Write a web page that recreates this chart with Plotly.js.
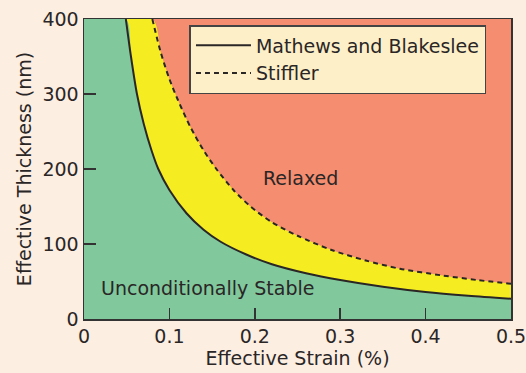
<!DOCTYPE html>
<html>
<head>
<meta charset="utf-8">
<script src="https://cdn.plot.ly/plotly-3.0.1.min.js"></script>
<style>html,body{margin:0;padding:0;background:#FDEEE2;}#chart{width:526px;height:373px;}</style>
</head>
<body>
<div id="chart"></div>
<script>
// Mathews and Blakeslee critical thickness (solid)
const mbStrain = [0.049, 0.055, 0.062, 0.070, 0.079, 0.087, 0.100, 0.120, 0.140, 0.160, 0.190, 0.220, 0.260, 0.300, 0.350, 0.400, 0.450, 0.500];
const mbThick  = [400, 350, 300, 260, 225, 200, 172, 141, 119, 103, 86, 73, 61, 52, 43, 36, 31, 27];
// Stiffler (dashed)
const stStrain = [0.080, 0.090, 0.100, 0.110, 0.125, 0.140, 0.155, 0.175, 0.195, 0.220, 0.250, 0.290, 0.330, 0.370, 0.420, 0.460, 0.500];
const stThick  = [400, 355, 320, 292, 255, 225, 200, 172, 150, 129, 111, 92, 78, 67, 58, 52, 47];
const xRange = [0, 0.5];
const yRange = [0, 400];
const xTicks = [0, 0.1, 0.2, 0.3, 0.4, 0.5];
const yTicks = [0, 100, 200, 300, 400];
const legendNames = ["Mathews and Blakeslee", "Stiffler"];
const regionLabels = [{text: "Relaxed", x: 0.253, y: 188}, {text: "Unconditionally Stable", x: 0.145, y: 42}];

const ink = '#2a2626';
const FONT = 'DejaVu Sans, Liberation Sans, Arial, sans-serif';
const traces = [
  { // yellow: below Stiffler
    x: [xRange[0]].concat(stStrain), y: [yRange[1]].concat(stThick),
    mode: 'lines', fill: 'tozeroy', fillcolor: '#F6EC22', line: {width: 0, color: '#F6EC22', shape: 'spline', smoothing: 0.8},
    showlegend: false, hoverinfo: 'skip'
  },
  { // green: below Mathews-Blakeslee
    x: [xRange[0]].concat(mbStrain), y: [yRange[1]].concat(mbThick),
    mode: 'lines', fill: 'tozeroy', fillcolor: '#81C99D', line: {width: 0, color: '#81C99D', shape: 'spline', smoothing: 0.8},
    showlegend: false, hoverinfo: 'skip'
  },
  {
    x: mbStrain, y: mbThick, name: legendNames[0], mode: 'lines',
    line: {color: ink, width: 2, shape: 'spline', smoothing: 0.8}
  },
  {
    x: stStrain, y: stThick, name: legendNames[1], mode: 'lines',
    line: {color: ink, width: 2, dash: '5px,4px', shape: 'spline', smoothing: 0.8}
  }
];

const layout = {
  width: 526, height: 373,
  paper_bgcolor: '#FDEEE2', plot_bgcolor: '#F58E70',
  margin: {l: 84, r: 15, t: 19, b: 54},
  font: {family: FONT, size: 19, color: ink},
  showlegend: true,
  legend: {
    x: 0.247, y: 0.98, xanchor: 'left', yanchor: 'top',
    bgcolor: '#FDEFC8', bordercolor: '#444', borderwidth: 1.5,
    font: {family: FONT, size: 19, color: ink}, tracegroupgap: 0, itemwidth: 55
  },
  xaxis: {
    range: xRange, tickvals: xTicks, ticktext: xTicks.map(v => String(v)),
    ticks: 'inside', ticklen: 11, tickwidth: 1.5, tickcolor: '#333',
    showline: true, linecolor: '#333', linewidth: 1.5, mirror: true,
    showgrid: false, zeroline: false, fixedrange: true,
    ticklabeloverflow: 'allow',
    title: {text: 'Effective Strain (%)', font: {size: 19}, standoff: 4},
    tickfont: {size: 19}
  },
  yaxis: {
    range: yRange, tickvals: yTicks, ticktext: yTicks.map(v => String(v)),
    ticks: 'inside', ticklen: 12, tickwidth: 1.5, tickcolor: '#333',
    showline: true, linecolor: '#333', linewidth: 1.5, mirror: true,
    showgrid: false, zeroline: false, fixedrange: true,
    ticklabeloverflow: 'allow',
    title: {text: 'Effective Thickness (nm)', font: {size: 19}, standoff: 6},
    tickfont: {size: 19}
  },
  annotations: regionLabels.map(r => ({
    text: r.text, x: r.x, y: r.y, xref: 'x', yref: 'y', showarrow: false,
    font: {family: FONT, size: 19, color: ink}
  }))
};

Plotly.newPlot('chart', traces, layout, {displayModeBar: false, staticPlot: true});
</script>
</body>
</html>
